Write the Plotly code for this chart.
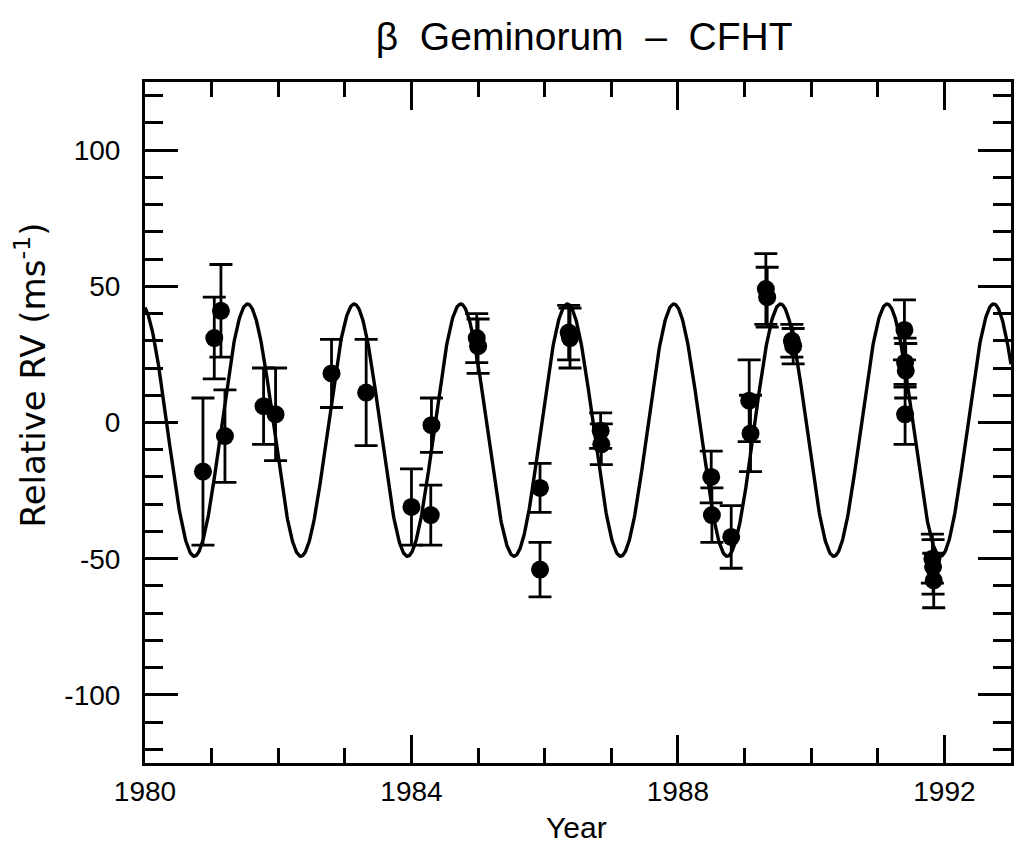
import numpy as np
import plotly.graph_objects as go

# Observations (year, relative RV in m/s, 1-sigma error)
obs_year = [1980.87, 1981.04, 1981.14, 1981.20, 1981.78, 1981.96, 1982.80, 1983.32,
            1984.00, 1984.29, 1984.30, 1984.98, 1985.00, 1985.93, 1985.93, 1986.36,
            1986.38, 1986.84, 1986.85, 1988.50, 1988.51, 1988.80, 1989.07, 1989.09,
            1989.32, 1989.34, 1989.71, 1989.73, 1991.40, 1991.41, 1991.42, 1991.41,
            1991.82, 1991.83, 1991.84]
obs_rv = [-18, 31, 41, -5, 6, 3, 18, 11,
          -31, -34, -1, 31, 28, -24, -54, 33,
          31, -3, -8, -20, -34, -42, 8, -4,
          49, 46, 30, 28, 34, 22, 19, 3,
          -50, -53, -58]
obs_err = [27, 15, 17, 17, 14, 17, 12.5, 19.5,
           14, 11, 10, 9, 10, 9, 10, 10,
           11, 6.5, 7.5, 9.5, 10, 11.5, 15, 14,
           13, 11, 6, 6.5, 11, 9, 10, 11,
           9, 10, 10]

# Orbital fit parameters (sinusoidal model)
fit_period_yr = 1.6
fit_amplitude = 46.3
fit_offset = -2.8
fit_epoch_max = 1981.54

x_range = [1980, 1993]
y_range = [-125, 125]
x_tick_vals = [1980, 1984, 1988, 1992]
x_tick_text = ["1980", "1984", "1988", "1992"]
y_tick_vals = [-100, -50, 0, 50, 100]
y_tick_text = ["-100", "-50", "0", "50", "100"]

t_model = np.linspace(x_range[0], x_range[1], 1500)
v_model = fit_offset + fit_amplitude * np.cos(2 * np.pi * (t_model - fit_epoch_max) / fit_period_yr)

font_family = "Liberation Sans, Arial, sans-serif"
wide_family = "DejaVu Sans, Liberation Sans, sans-serif"

fig = go.Figure()
fig.add_trace(go.Scatter(x=t_model, y=v_model, mode="lines",
                         line=dict(color="black", width=3.4), hoverinfo="skip",
                         showlegend=False))
fig.add_trace(go.Scatter(x=obs_year, y=obs_rv, mode="markers",
                         marker=dict(color="black", size=18, symbol="circle"),
                         error_y=dict(type="data", array=obs_err, visible=True,
                                      color="black", thickness=2.8, width=11.5),
                         showlegend=False))

axis_common = dict(showline=True, linecolor="black", linewidth=3, mirror="ticks",
                   ticks="inside", tickcolor="black", tickwidth=2.8,
                   showgrid=False, zeroline=False,
                   tickfont=dict(family=font_family, size=28, color="black"))

fig.update_xaxes(range=x_range, tickmode="array", tickvals=x_tick_vals, ticktext=x_tick_text,
                 ticklen=28, ticklabelstandoff=1,
                 minor=dict(ticks="inside", ticklen=15, dtick=1, tick0=1980,
                            tickwidth=2.8, tickcolor="black", showgrid=False),
                 **axis_common)
fig.update_yaxes(range=y_range, tickmode="array", tickvals=y_tick_vals, ticktext=y_tick_text,
                 ticklen=33, ticklabelstandoff=16,
                 minor=dict(ticks="inside", ticklen=18, dtick=10, tick0=0,
                            tickwidth=2.8, tickcolor="black", showgrid=False),
                 **axis_common)

fig.update_layout(
    width=1016, height=848,
    margin=dict(l=145, r=2, t=82, b=85),
    paper_bgcolor="white", plot_bgcolor="white",
    title=dict(text="β  Geminorum  –  CFHT", x=0.575, xanchor="center", y=0.957, yanchor="middle",
               font=dict(family=font_family, size=39, color="black")),
    annotations=[
        dict(text="Year", xref="paper", yref="paper", x=0.498, y=-0.095,
             xanchor="center", yanchor="middle", showarrow=False,
             font=dict(family=font_family, size=30, color="black")),
        dict(text="Relative RV (ms<sup>-1</sup>)", xref="paper", yref="paper",
             x=(30 - 145) / 869, y=(763 - 375) / 681, textangle=-90,
             xanchor="center", yanchor="middle", showarrow=False,
             font=dict(family=wide_family, size=34, color="black")),
    ],
)

fig.write_html("out.html")
